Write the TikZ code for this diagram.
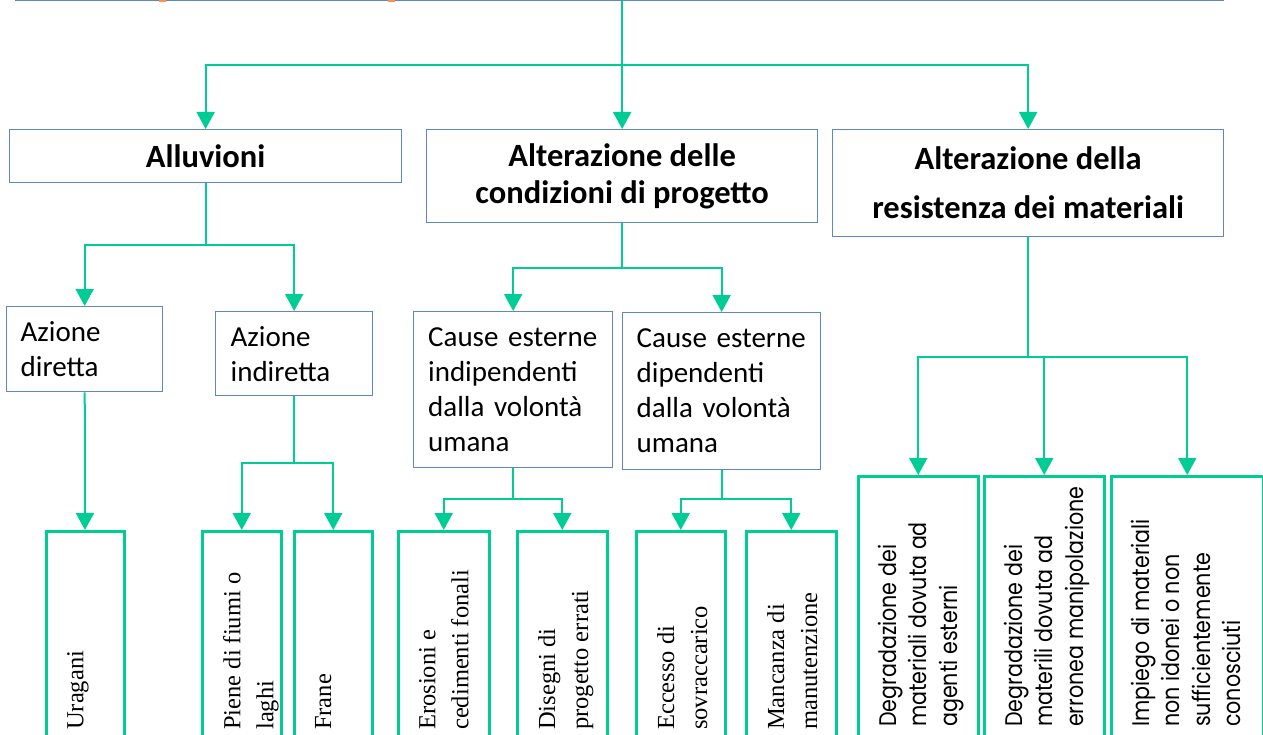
\documentclass[tikz,border=0pt]{standalone}
\usepackage{fontspec}
\setmainfont{Carlito}
\newfontfamily\leafserif{Liberation Serif}
\newfontfamily\leafsans[FakeStretch=0.86]{Poppins}
\usetikzlibrary{arrows.meta}

\definecolor{boxblue}{RGB}{95,135,198}
\definecolor{linkgreen}{RGB}{0,204,150}
\definecolor{markorange}{RGB}{247,150,70}

\begin{document}
\begin{tikzpicture}[x=1pt,y=-1pt,
    catbox/.style={draw=boxblue, line width=1.3pt, inner sep=0pt, anchor=north west},
    headbox/.style={catbox, align=center, font=\bfseries\fontsize{32.5}{37}\selectfont},
    subbox/.style={catbox, align=left, font=\fontsize{29}{35}\selectfont},
    leafbox/.style={draw=linkgreen, line width=2.5pt, inner sep=0pt, anchor=north west, minimum height=300pt},
    serifleaf/.style={rotate=90, anchor=north west, inner sep=0pt, align=left, font=\leafserif\fontsize{24.5}{33}\selectfont},
    sansleaf/.style={rotate=90, anchor=north west, inner sep=0pt, align=left, font=\leafsans\fontsize{24}{30.5}\selectfont},
    link/.style={draw=linkgreen, line width=2pt},
    arr/.style={link, -{Triangle[length=17pt,width=18pt]}}]
  \useasboundingbox (0,0) rectangle (1263,735);
  % root box, only its lower edge is on the page
  \node[catbox, anchor=south west, minimum width=1208pt, minimum height=50pt] (root) at (15,1) {};
  \fill[markorange] (159,0) rectangle (166,2);
  \fill[markorange] (388,0) rectangle (395,2);
  % first level
  \node[headbox, minimum width=392pt, minimum height=53pt] (alluv) at (9,129) {Alluvioni};
  \node[headbox, minimum width=391pt, minimum height=93pt] (cond) at (426,129) {Alterazione delle\\condizioni di progetto};
  \node[headbox, font=\bfseries\fontsize{32.5}{49}\selectfont, minimum width=391pt, minimum height=107pt] (resist) at (832,129) {Alterazione della\\resistenza dei materiali};
  % second level
  \node[subbox, minimum width=156pt, minimum height=85pt, text width=128pt] (diretta) at (6,306) {Azione\\diretta};
  \node[subbox, minimum width=157pt, minimum height=84pt, text width=127pt] (indiretta) at (215,311) {Azione\\indiretta};
  \node[subbox, minimum width=199pt, minimum height=156pt, text width=170pt] (indip) at (413,311) {Cause~esterne\\indipendenti\\dalla~volontà\\umana};
  \node[subbox, minimum width=198pt, minimum height=157pt, text width=170pt] (dip) at (622,312) {Cause~esterne\\dipendenti\\dalla~volontà\\umana};
  % leaves, text turned upwards
  \foreach \nm/\xl/\xr/\txt in {ur/45/123/{Uragani}, piene/201/280/{Piene di fiumi o\\laghi}, frane/293/371/{Frane},
      eros/397/488/{Erosioni e\\cedimenti fonali}, diseg/516/606/{Disegni di\\progetto errati},
      ecc/635/724/{Eccesso di\\sovraccarico}, manc/745/835/{Mancanza di\\manutenzione}} {
    \node[leafbox, minimum width={(\xr-\xl)*1pt}] (\nm) at (\xl,530) {};
    \node[serifleaf] (\nm-txt) at (\xl+22,730) {\txt};
  }
  \foreach \nm/\xl/\xr/\txt in {degest/857/977/{Degradazione dei\\materiali dovuta ad\\agenti esterni},
      degman/983/1103/{Degradazione dei\\materili dovuta ad\\erronea manipolazione},
      impiego/1110/1262/{Impiego di materiali\\non idonei o non\\sufficientemente\\conosciuti}} {
    \node[leafbox, minimum width={(\xr-\xl)*1pt}] (\nm) at (\xl,475) {};
    \node[sansleaf] (\nm-txt) at (\xl+21,727) {\txt};
  }
  % connectors
  \coordinate (rootout) at (622,1);
  \path (rootout) ++(0,64) coordinate (bus0);
  \draw[link] (rootout) -- (bus0);
  \draw[arr] (bus0) -| (alluv);
  \draw[arr] (bus0) -| (cond);
  \draw[arr] (bus0) -| (resist);
  \path (alluv.south) ++(0,62) coordinate (busA);
  \draw[link] (alluv) -- (busA);
  \draw[arr] (busA) -| (diretta);
  \draw[arr] (busA) -| (indiretta);
  \path (cond.south) ++(0,45) coordinate (busC);
  \draw[link] (cond) -- (busC);
  \draw[arr] (busC) -| (indip);
  \draw[arr] (busC) -| (dip);
  \path (resist.south) ++(0,120) coordinate (busR);
  \draw[link] (resist) -- (busR);
  \draw[arr] (busR) -| (degest);
  \draw[arr] (busR) -| (degman);
  \draw[arr] (busR) -| (impiego);
  \draw[arr] (diretta) -- (ur);
  \path (indiretta.south) ++(0,67) coordinate (busI);
  \draw[link] (indiretta) -- (busI);
  \draw[arr] (busI) -| (piene);
  \draw[arr] (busI) -| (frane);
  \path (indip.south) ++(0,31) coordinate (busE);
  \draw[link] (indip) -- (busE);
  \draw[arr] (busE) -| (eros);
  \draw[arr] (busE) -| (diseg);
  \path (dip.south) ++(0,29) coordinate (busF);
  \draw[link] (dip) -- (busF);
  \draw[arr] (busF) -| (ecc);
  \draw[arr] (busF) -| (manc);
\end{tikzpicture}
\end{document}
